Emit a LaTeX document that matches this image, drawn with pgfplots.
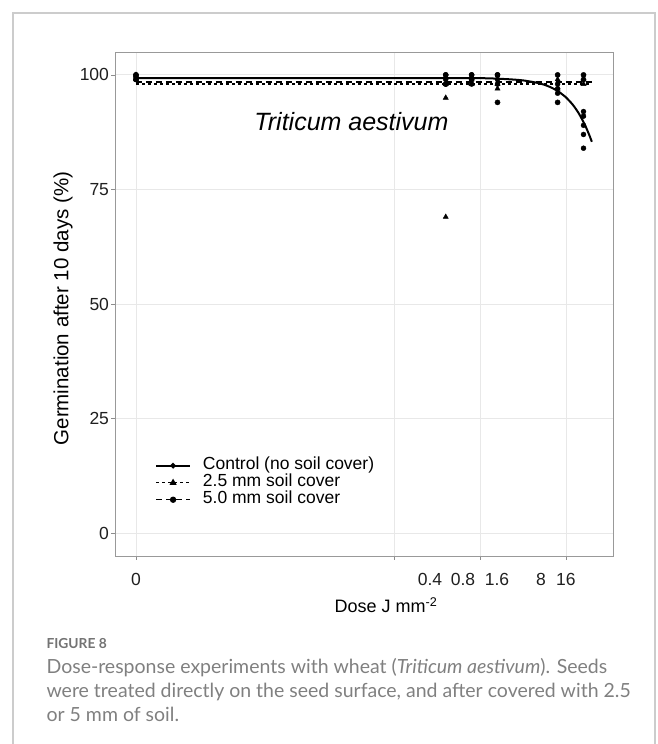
\documentclass[border=0pt]{standalone}
\usepackage{fontspec}
\setmainfont{Liberation Sans}
\newfontfamily\capfont{Lato}
\usepackage{pgfplots}
\pgfplotsset{compat=1.18}
\begin{document}
\begin{tikzpicture}[x=1pt,y=1pt]
\path[use as bounding box] (0,0) rectangle (658,744);
\draw[color=black!20, line width=1.2pt] (13,0) -- (13,731) -- (655,731) -- (655,0);
\begin{axis}[
  at={(115pt,188pt)}, anchor=south west,
  scale only axis, width=498pt, height=504pt,
  xmin=-4.244, xmax=1.547, ymin=-5, ymax=105,
  axis line style={draw=black!40, line width=0.9pt},
  grid=major, grid style={draw=black!9, line width=0.9pt},
  tick pos=left, tick align=outside, major tick length=4pt,
  tick style={draw=black!45, line width=0.8pt},
  xtick={-4,-1,0,1}, xticklabels={0,,,},
  ytick={0,25,50,75,100},
  /pgf/number format/assume math mode=true,
  tick label style={font=\fontsize{17.5}{17.5}\selectfont, text=black!88},
  xticklabel style={yshift=-10pt},
  yticklabel style={xshift=1.5pt},
  extra x ticks={-0.581,-0.198,0.198,0.709,1.0},
  extra x tick labels={0.4,0.8,1.6,8,16},
  extra x tick style={major tick length=0pt, grid=none, xticklabel style={yshift=-4pt}},
  every axis x label/.style={at={(axis description cs:0.544,0)}, anchor=base, yshift=-57pt, font=\fontsize{18}{18}\selectfont},
  every axis y label/.style={at={(axis description cs:-0.1044,0.491)}, anchor=center, rotate=90, font=\fontsize{20.5}{20.5}\selectfont},
  xlabel={Dose J mm\textsuperscript{-2}},
  ylabel={Germination after 10 days (\%)},
  legend style={at={(axis cs:-3.779,16.6)}, anchor=north west, draw=none, fill=none,
    inner sep=0pt, column sep=12pt, row sep=0pt,
    font=\fontsize{17.5}{17.5}\selectfont,
    nodes={inner sep=0pt, text height=12.5pt, text depth=4.5pt}},
  legend cell align=left,
  legend image code/.code={\draw[#1, mark repeat=2, mark phase=2] plot coordinates {(0pt,0pt) (17pt,0pt) (34pt,0pt)};},
]
\addlegendimage{black, line width=1.8pt, mark=*, mark size=1.8pt, mark options={solid}}
\addlegendentry{Control (no soil cover)}
\addlegendimage{black, line width=1.5pt, dash pattern=on 3pt off 3pt, mark=triangle*, mark size=2.6pt, mark options={solid}}
\addlegendentry{2.5 mm soil cover}
\addlegendimage{black, line width=1.5pt, dash pattern=on 6pt off 4pt, mark=*, mark size=2.4pt, mark options={solid}}
\addlegendentry{5.0 mm soil cover}

% fitted curves
\addplot[black, line width=1.5pt, dash pattern=on 3pt off 3pt, forget plot] table {
x y
-4 98.0
1.3 98.0
};
\addplot[black, line width=1.5pt, dash pattern=on 6pt off 4pt, forget plot] table {
x y
-4 98.5
1.3 98.5
};
\addplot[black, line width=2pt, smooth, forget plot] table {
x y
-4.0 99.3
-1.0 99.3
0.0 99.28
0.204 99.16
0.301 99.09
0.477 98.85
0.602 98.5
0.699 98.12
0.778 97.65
0.845 97.1
0.903 96.5
0.954 95.8
1.0 95.1
1.041 94.3
1.079 93.5
1.114 92.6
1.146 91.7
1.176 90.7
1.204 89.7
1.230 88.7
1.255 87.6
1.279 86.5
1.301 85.4
};

% observations: control
\addplot[only marks, mark=*, mark size=2.5pt, black, forget plot] table {
x y
-4 100
-4 99.5
-4 99
-0.398 100
-0.398 99
-0.398 98
-0.097 100
-0.097 99
-0.097 98
0.204 100
0.204 99
0.204 98
0.903 98
0.903 97
0.903 96
1.204 92
1.204 91
1.204 89
1.204 87
1.204 84
};
% 2.5 mm
\addplot[only marks, mark=triangle*, mark size=3pt, black, forget plot] table {
x y
-4 100
-4 99
-0.398 98
-0.398 95
-0.398 69
-0.097 99
-0.097 98
0.204 98
0.204 97
0.903 99
0.903 97
1.204 99
1.204 98
};
% 5.0 mm
\addplot[only marks, mark=*, mark size=2.6pt, black, forget plot] table {
x y
-4 100
-4 99
-0.398 100
-0.398 98
-0.097 100
-0.097 99
0.204 100
0.204 94
0.903 100
0.903 94
1.204 100
1.204 99
};
\node[font=\fontsize{25}{25}\selectfont\itshape] at (axis cs:-1.494,89.76) {Triticum aestivum};
\end{axis}
\node[anchor=base west, text=black!55, font=\capfont\bfseries\fontsize{13.8}{13.8}\selectfont] at (43,95) {FIGURE 8};
\node[anchor=base west, text=black!50, font=\capfont\fontsize{19.5}{19.5}\selectfont] at (43,70) {Dose-response experiments with wheat (\textit{Triticum aestivum}). Seeds};
\node[anchor=base west, text=black!50, font=\capfont\fontsize{19.5}{19.5}\selectfont] at (43,46) {were treated directly on the seed surface, and after covered with 2.5};
\node[anchor=base west, text=black!50, font=\capfont\fontsize{19.5}{19.5}\selectfont] at (43,23) {or 5 mm of soil.};
\end{tikzpicture}
\end{document}
